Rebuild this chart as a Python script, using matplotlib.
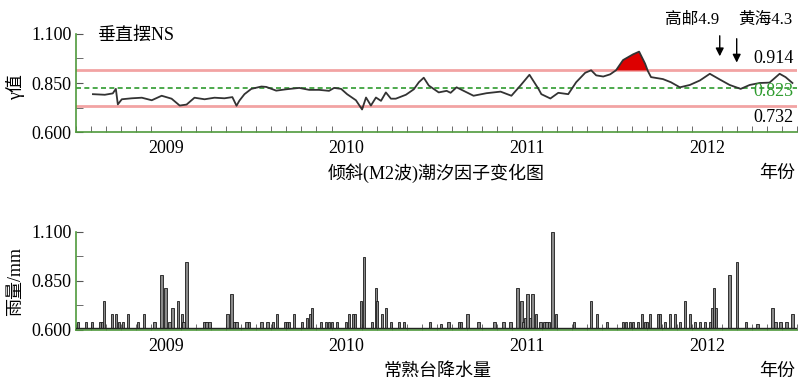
import matplotlib
matplotlib.use("Agg")
import matplotlib.pyplot as plt
import matplotlib.transforms as mtransforms
import numpy as np

plt.rcParams['font.family'] = ['Liberation Serif', 'Noto Sans CJK SC']
plt.rcParams['axes.unicode_minus'] = False

# gamma factor of the NS vertical pendulum (fractional year, value)
tide_t = [2009.094, 2009.160, 2009.204, 2009.221, 2009.232, 2009.254, 2009.309, 2009.365,
          2009.420, 2009.475, 2009.530, 2009.575, 2009.613, 2009.657, 2009.713, 2009.768,
          2009.823, 2009.867, 2009.890, 2009.906, 2009.934, 2009.972, 2010.028, 2010.055,
          2010.110, 2010.166, 2010.238, 2010.293, 2010.348, 2010.403, 2010.431, 2010.470,
          2010.503, 2010.552, 2010.586, 2010.608, 2010.635, 2010.663, 2010.691, 2010.718,
          2010.746, 2010.773, 2010.829, 2010.873, 2010.901, 2010.928, 2010.956, 2011.011,
          2011.055, 2011.077, 2011.110, 2011.204, 2011.276, 2011.354, 2011.414, 2011.464,
          2011.514, 2011.564, 2011.580, 2011.630, 2011.674, 2011.729, 2011.773, 2011.823,
          2011.856, 2011.884, 2011.923, 2011.961, 2011.994, 2012.033, 2012.088, 2012.122,
          2012.155, 2012.171, 2012.188, 2012.254, 2012.298, 2012.348, 2012.403, 2012.459,
          2012.514, 2012.569, 2012.624, 2012.685, 2012.735, 2012.790, 2012.845, 2012.901,
          2012.934, 2012.972]
tide_v = [0.793, 0.790, 0.797, 0.820, 0.741, 0.767, 0.772, 0.775,
          0.762, 0.785, 0.770, 0.735, 0.740, 0.775, 0.767, 0.775,
          0.772, 0.778, 0.734, 0.760, 0.793, 0.820, 0.832, 0.830,
          0.811, 0.818, 0.825, 0.815, 0.815, 0.810, 0.825, 0.820,
          0.793, 0.762, 0.715, 0.776, 0.735, 0.776, 0.759, 0.802,
          0.770, 0.770, 0.790, 0.818, 0.854, 0.877, 0.837, 0.802,
          0.810, 0.800, 0.828, 0.785, 0.798, 0.806, 0.785, 0.837,
          0.892, 0.820, 0.793, 0.771, 0.800, 0.793, 0.854, 0.902,
          0.915, 0.889, 0.883, 0.894, 0.915, 0.967, 0.996, 1.010,
          0.949, 0.910, 0.880, 0.870, 0.854, 0.828, 0.840, 0.863,
          0.897, 0.868, 0.840, 0.820, 0.840, 0.850, 0.852, 0.897,
          0.880, 0.850]

upper_lim = 0.914
mean_val = 0.823
lower_lim = 0.732

# Changshu station rainfall (fractional year, plotted value)
rain_t = [2009.011, 2009.055, 2009.088, 2009.133, 2009.144, 2009.155, 2009.199, 2009.221,
          2009.238, 2009.260, 2009.287, 2009.343, 2009.376, 2009.436, 2009.475, 2009.497,
          2009.519, 2009.536, 2009.564, 2009.586, 2009.597, 2009.613, 2009.713, 2009.724,
          2009.740, 2009.840, 2009.862, 2009.878, 2009.890, 2009.945, 2009.961,
          2010.028, 2010.061, 2010.094, 2010.116, 2010.160, 2010.171, 2010.182, 2010.210,
          2010.254, 2010.282, 2010.298, 2010.309, 2010.359, 2010.387, 2010.403, 2010.420,
          2010.448, 2010.497, 2010.514, 2010.536, 2010.547, 2010.580, 2010.597, 2010.641,
          2010.663, 2010.669, 2010.696, 2010.718, 2010.746, 2010.790, 2010.818, 2010.961,
          2011.022, 2011.066, 2011.122, 2011.133, 2011.171, 2011.232, 2011.320, 2011.370,
          2011.409, 2011.448, 2011.470, 2011.481, 2011.492, 2011.503, 2011.519, 2011.530,
          2011.552, 2011.575, 2011.597, 2011.608, 2011.624, 2011.641, 2011.663, 2011.762,
          2011.856, 2011.890, 2011.945,
          2012.033, 2012.050, 2012.072, 2012.088, 2012.116, 2012.138, 2012.155, 2012.166,
          2012.182, 2012.227, 2012.238, 2012.265, 2012.293, 2012.320, 2012.348, 2012.376,
          2012.403, 2012.431, 2012.459, 2012.486, 2012.514, 2012.525, 2012.536, 2012.547,
          2012.624, 2012.663, 2012.713, 2012.779, 2012.862, 2012.878, 2012.906, 2012.939,
          2012.972]
rain_v = [0.64, 0.64, 0.64, 0.64, 0.64, 0.748, 0.68, 0.68,
          0.64, 0.64, 0.68, 0.64, 0.68, 0.64, 0.88, 0.816,
          0.64, 0.71, 0.748, 0.68, 0.64, 0.945, 0.64, 0.64,
          0.64, 0.68, 0.782, 0.64, 0.64, 0.64, 0.64,
          0.64, 0.64, 0.64, 0.68, 0.64, 0.64, 0.64, 0.68,
          0.64, 0.66, 0.68, 0.71, 0.64, 0.64, 0.64, 0.64,
          0.64, 0.64, 0.68, 0.68, 0.68, 0.748, 0.974, 0.64,
          0.816, 0.748, 0.68, 0.71, 0.64, 0.64, 0.64, 0.64,
          0.63, 0.64, 0.64, 0.64, 0.68, 0.64, 0.64, 0.64,
          0.64, 0.816, 0.748, 0.64, 0.66, 0.782, 0.66, 0.782,
          0.68, 0.64, 0.64, 0.64, 0.64, 1.10, 0.68, 0.64,
          0.748, 0.68, 0.64,
          0.64, 0.64, 0.64, 0.64, 0.64, 0.68, 0.64, 0.64,
          0.68, 0.68, 0.68, 0.64, 0.68, 0.68, 0.64, 0.748,
          0.68, 0.64, 0.64, 0.64, 0.64, 0.71, 0.816, 0.71,
          0.88, 0.945, 0.64, 0.63, 0.71, 0.64, 0.64, 0.64,
          0.68]
rain_base = 0.609

years = [2009, 2010, 2011, 2012]
eq_t = [2012.569, 2012.663]
eq_labels = ['高邮4.9', '黄海4.3']

green = '#4f9a3c'
fs = 13

fig = plt.figure(figsize=(7.99, 3.81), dpi=100)
ax1 = fig.add_axes([0.0951, 0.6535, 0.903, 0.2573])
ax2 = fig.add_axes([0.0951, 0.1339, 0.903, 0.2572])


def style_axis(ax):
    ax.set_xlim(2009, 2013)
    ax.set_ylim(0.6, 1.1)
    for s in ['top', 'right']:
        ax.spines[s].set_visible(False)
    for s in ['left', 'bottom']:
        ax.spines[s].set_color(green)
        ax.spines[s].set_linewidth(1.2)
    ax.set_yticks([0.6, 0.85, 1.1])
    ax.set_yticklabels(['0.600', '0.850', '1.100'])
    ax.set_yticks([0.725, 0.975], minor=True)
    ax.set_xticks([y + 0.5 for y in years])
    ax.set_xticklabels([str(y) for y in years])
    ax.set_xticks(np.arange(2009, 2013.001, 1 / 12), minor=True)
    ax.tick_params(axis='x', which='major', length=0, pad=6, labelsize=fs)
    ax.tick_params(axis='x', which='minor', direction='in', length=4, color='#555555')
    ax.tick_params(axis='y', which='both', direction='in', length=5, color='#555555',
                   pad=3, labelsize=fs)


style_axis(ax1)
style_axis(ax2)

# top panel: tidal factor curve with limits
tt = np.array(tide_t)
vv = np.array(tide_v)
ax1.axhline(upper_lim, color='#f2a3a3', lw=2.0, zorder=1)
ax1.axhline(lower_lim, color='#f2a3a3', lw=2.0, zorder=1)
ax1.axhline(mean_val, color='#2e9b2e', lw=1.2, ls=(0, (3, 2)), zorder=1)
ax1.fill_between(tt, vv, upper_lim, where=vv > upper_lim, interpolate=True,
                 color='#dd0000', lw=0, zorder=2)
ax1.fill_between(tt, vv, lower_lim, where=vv < lower_lim, interpolate=True,
                 color='#cc0000', lw=0, zorder=2)
ax1.plot(tt, vv, color='#333333', lw=1.3, zorder=3)

trans = mtransforms.blended_transform_factory(ax1.transAxes, ax1.transData)
ax1.text(0.995, 0.974, '0.914', transform=trans, ha='right', va='center', fontsize=fs)
ax1.text(0.995, 0.805, '0.823', transform=trans, ha='right', va='center', fontsize=fs,
         color='#2e9b2e')
ax1.text(0.995, 0.672, '0.732', transform=trans, ha='right', va='center', fontsize=fs)

# earthquake markers
ax1.annotate('', xy=(eq_t[0], 0.972), xytext=(eq_t[0], 1.105), annotation_clip=False,
             arrowprops=dict(arrowstyle='-|>', color='black', lw=1.0, mutation_scale=12))
ax1.annotate('', xy=(eq_t[1], 0.940), xytext=(eq_t[1], 1.090), annotation_clip=False,
             arrowprops=dict(arrowstyle='-|>', color='black', lw=1.0, mutation_scale=12))
fig.text(0.866, 0.948, eq_labels[0], ha='center', va='center', fontsize=12)
fig.text(0.958, 0.948, eq_labels[1], ha='center', va='center', fontsize=12)

fig.text(0.121, 0.906, '垂直摆NS', ha='left', va='center', fontsize=fs)
fig.text(0.546, 0.546, '倾斜(M2波)潮汐因子变化图', ha='center', va='center', fontsize=fs)
fig.text(0.972, 0.546, '年份', ha='center', va='center', fontsize=fs)
fig.text(0.019, 0.772, 'γ值', ha='center', va='center', rotation=90, fontsize=fs)

# bottom panel: rainfall bars
rv = np.array(rain_v)
ax2.bar(rain_t, rv - rain_base, bottom=rain_base, width=0.013, color='#8a8a8a',
        edgecolor='#1a1a1a', linewidth=0.6, zorder=2)
ax2.axhline(rain_base, color='#222222', lw=1.0, zorder=3)

fig.text(0.547, 0.024, '常熟台降水量', ha='center', va='center', fontsize=fs)
fig.text(0.972, 0.024, '年份', ha='center', va='center', fontsize=fs)
fig.text(0.019, 0.262, '雨量/mm', ha='center', va='center', rotation=90, fontsize=fs)

fig.savefig('out.png', dpi=100)
